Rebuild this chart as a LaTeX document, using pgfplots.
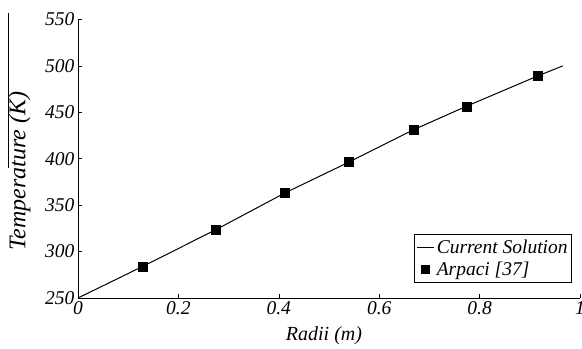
\documentclass[border=0pt]{standalone}
\usepackage{fontspec}
\setmainfont{Liberation Serif}
\usepackage{pgfplots}
\pgfplotsset{compat=1.18}
\begin{document}
\begin{tikzpicture}
\begin{axis}[
  scale only axis,
  width=502pt, height=278.5pt,
  xmin=0, xmax=1, ymin=250, ymax=550,
  xtick={0,0.2,0.4,0.6,0.8,1},
  ytick={250,300,350,400,450,500,550},
  axis x line=bottom, axis y line=left,
  axis line style={-, line width=0.8pt},
  tick align=inside, major tick length=4pt,
  tick style={line width=0.6pt, black},
  /pgf/number format/assume math mode=true,
  ticklabel style={font=\itshape\fontsize{19.5}{19.5}\selectfont},
  xticklabel style={yshift=0pt},
  xlabel={Radii (m)},
  ylabel={Temperature (K)},
  every axis x label/.style={at={(axis description cs:0.49,-0.135)}, anchor=center, font=\itshape\fontsize{20}{20}\selectfont},
  every axis y label/.style={at={(axis description cs:-0.1165,0.455)}, anchor=center, rotate=90, font=\itshape\fontsize{24}{24}\selectfont},
  clip=false,
  legend style={at={(axis description cs:0.984,0.057)}, anchor=south east, draw=black, line width=0.6pt,
    font=\itshape\fontsize{19.5}{19.5}\selectfont, inner xsep=2pt, inner ysep=3pt, row sep=3pt,
    cells={anchor=west}, /tikz/every even column/.append style={column sep=0pt}},
]
\addplot[black, line width=1pt, mark=none,
  legend image code/.code={\draw[black, line width=1pt] (0pt,0pt) -- (17pt,0pt);}]
  coordinates {(0,250) (0.128,283.8) (0.274,323.4) (0.412,363.1) (0.540,396.5) (0.669,431.4) (0.774,456.6) (0.915,489.0) (0.9655,500.0)};
\addlegendentry{Current Solution}
\addplot[only marks, mark=square*, mark size=4.5pt, black,
  legend image code/.code={\fill[black] (4pt,-3.8pt) rectangle (11.6pt,3.8pt); \path[draw=none] (0pt,0pt) -- (17pt,0pt);}]
  coordinates {(0.128,283.8) (0.274,323.4) (0.412,363.1) (0.540,396.5) (0.669,431.4) (0.774,456.6) (0.915,489.0)};
\addlegendentry{Arpaci [37]}
\draw[black, line width=0.8pt] (axis description cs:-0.139,1.025) -- (axis description cs:-0.139,0.466);
\end{axis}
\pgfresetboundingbox
\path ([xshift=-78pt,yshift=-50pt]current axis.south west) rectangle ([xshift=2pt,yshift=19.5pt]current axis.north east);
\end{tikzpicture}
\end{document}
